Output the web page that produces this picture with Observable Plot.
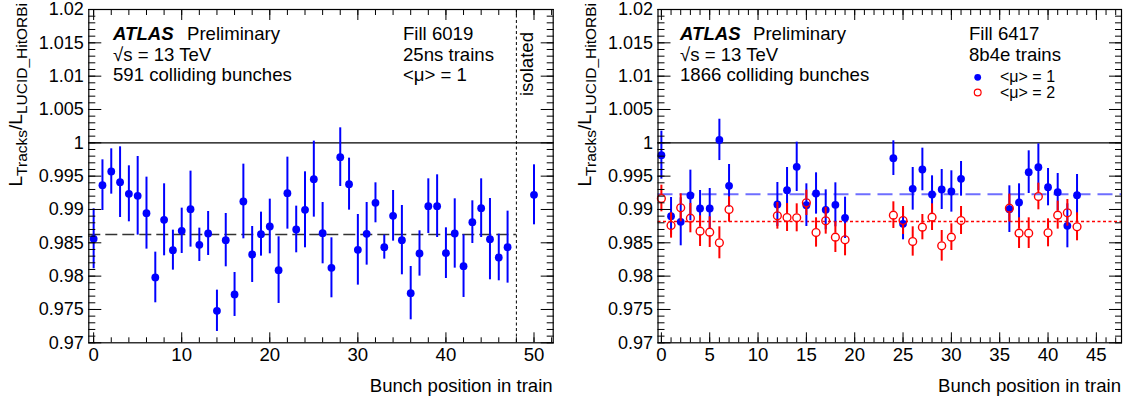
<!DOCTYPE html>
<html><head><meta charset="utf-8">
<script src="https://cdn.jsdelivr.net/npm/d3@7"></script>
<script src="https://cdn.jsdelivr.net/npm/@observablehq/plot@0.6"></script>
<style>
body{margin:0;background:#fff;}
#wrap{position:relative;width:1130px;height:402px;display:flex;overflow:hidden;}
#wrap svg{flex:none;overflow:visible;}
</style></head><body><div id="wrap"></div>
<script>
// ---------- data ----------
const leftX = [0,1,2,3,4,5,6,7,8,9,10,11,12,13,14,15,16,17,18,19,20,21,22,23,24,25,26,27,28,29,30,31,32,33,34,35,36,37,38,39,40,41,42,43,44,45,46,47,50];
const leftY = [0.9856,0.99365,0.9957,0.9941,0.99235,0.99205,0.98945,0.9798,0.98845,0.9839,0.9868,0.99005,0.9847,0.9864,0.9748,0.9854,0.97725,0.9912,0.98325,0.9863,0.98745,0.9809,0.99245,0.987,0.98995,0.99455,0.98645,0.98125,0.99785,0.9938,0.98395,0.98635,0.991,0.98435,0.98905,0.9854,0.97745,0.9834,0.9905,0.9905,0.98345,0.9864,0.9815,0.9881,0.9902,0.98555,0.9828,0.98435,0.9922];
const leftErr = [0.0045,0.0038,0.0034,0.0053,0.0042,0.0059,0.0054,0.0038,0.0054,0.003,0.0034,0.0057,0.0025,0.0033,0.0031,0.004,0.0033,0.0056,0.0042,0.0033,0.0041,0.005,0.0054,0.0035,0.0057,0.0057,0.0046,0.0045,0.0044,0.0039,0.0053,0.0047,0.003,0.0018,0.0038,0.0052,0.004,0.0034,0.0041,0.0047,0.0038,0.0052,0.0047,0.0032,0.0044,0.0061,0.0035,0.0054,0.0045];
const leftMean = 0.98625;
const isolatedEdge = 48;

const rightX = [0,1,2,3,4,5,6,7,12,13,14,15,16,17,18,19,24,25,26,27,28,29,30,31,36,37,38,39,40,41,42,43];
const mu1Y = [0.99815,0.989,0.98815,0.9921,0.99015,0.99015,1.00044,0.99355,0.99075,0.9929,0.9964,0.99065,0.9924,0.98995,0.9907,0.98875,0.9977,0.98785,0.9931,0.996,0.99225,0.993,0.9927,0.9946,0.99005,0.99105,0.9956,0.99635,0.99335,0.9926,0.98755,0.99215];
const mu1Err = [0.0036,0.0028,0.0036,0.0038,0.0027,0.003,0.0031,0.0032,0.0033,0.0034,0.0037,0.0032,0.0031,0.003,0.0033,0.0031,0.0026,0.0024,0.0032,0.0032,0.0028,0.003,0.0031,0.0026,0.0035,0.0028,0.0032,0.0035,0.0028,0.0028,0.0033,0.0031];
const mu2Y = [0.99165,0.9876,0.99025,0.9887,0.98675,0.9866,0.985,0.99,0.98905,0.9888,0.98875,0.991,0.98655,0.9883,0.98585,0.98545,0.98915,0.98835,0.9852,0.98735,0.98885,0.98455,0.98585,0.98835,0.9902,0.98645,0.98645,0.99195,0.9865,0.98915,0.9895,0.9874];
const mu2Err = [0.002,0.0019,0.0021,0.0022,0.0023,0.0023,0.0024,0.0019,0.002,0.0021,0.0021,0.0019,0.0022,0.002,0.0023,0.0024,0.002,0.0021,0.0022,0.0019,0.002,0.0023,0.002,0.0021,0.0021,0.0023,0.0023,0.002,0.0021,0.0021,0.002,0.0021];
const mu1Mean = 0.9923;
const mu2Mean = 0.9882;

const yMajor = [0.97,0.975,0.98,0.985,0.99,0.995,1,1.005,1.01,1.015,1.02];
const yMinor = d3.range(970,1021).map(d => d/1000);
const leftXMajor = [0,10,20,30,40,50];
const leftXMinor = d3.range(0,53,2);
const rightXMajor = [0,5,10,15,20,25,30,35,40,45];
const rightXMinor = d3.range(0,48);

const yLabel = ["L","Tracks","/L","LUCID_HitORBi"];
const xLabel = "Bunch position in train";
// ---------- layout/style ----------
const FONT = '"Liberation Sans", Arial, Helvetica, sans-serif';
const FS = 18.6, TICK_FS = 18;
const H = 402, MT = 9, MB = 59.7, Y_DOMAIN = [0.97, 1.02];
const BLUE = "#0000ff", RED = "#ff0000";
const fmt = d => String(+d.toFixed(3));

function frameMarks(xMajor, xMinor) {
  return [
    Plot.axisY(yMajor, {anchor: "left", tickSize: -13, tickFormat: () => "", label: null}),
    Plot.axisY(yMinor, {anchor: "left", tickSize: -7, tickFormat: () => "", label: null}),
    Plot.axisY(yMajor, {anchor: "right", tickSize: -13, tickFormat: () => "", label: null}),
    Plot.axisY(yMinor, {anchor: "right", tickSize: -7, tickFormat: () => "", label: null}),
    Plot.axisX(xMajor, {anchor: "bottom", tickSize: -10, tickFormat: () => "", label: null}),
    Plot.axisX(xMinor, {anchor: "bottom", tickSize: -5, tickFormat: () => "", label: null}),
    Plot.axisX(xMajor, {anchor: "top", tickSize: -10, tickFormat: () => "", label: null}),
    Plot.axisX(xMinor, {anchor: "top", tickSize: -5, tickFormat: () => "", label: null}),
    Plot.axisY(yMajor, {anchor: "left", tickSize: 0, tickPadding: 5, tickFormat: fmt, fontSize: TICK_FS, label: null}),
    Plot.axisX(xMajor, {anchor: "bottom", tickSize: 0, tickPadding: 5, tickFormat: d => String(d), fontSize: FS, label: null}),
    Plot.frame({stroke: "#000", strokeWidth: 1.2})
  ];
}

function makePlot({width, ml, mr, xDomain, xMajor, xMinor, marks}) {
  return Plot.plot({
    width, height: H, marginLeft: ml, marginRight: mr, marginTop: MT, marginBottom: MB,
    style: {fontFamily: FONT, fontSize: FS + "px", color: "#000", background: "#fff"},
    x: {domain: xDomain},
    y: {domain: Y_DOMAIN},
    marks: [...marks, ...frameMarks(xMajor, xMinor)]
  });
}

function addText(svg, x, y, str, opts = {}) {
  const t = svg.append("text").attr("x", x).attr("y", y)
    .attr("font-family", FONT).attr("font-size", opts.size || FS).attr("fill", "#000")
    .attr("text-anchor", opts.anchor || "start").text(str);
  if (opts.weight) t.attr("font-weight", opts.weight);
  if (opts.style) t.attr("font-style", opts.style);
  if (opts.rotate) t.attr("x", null).attr("y", null).attr("transform", `translate(${x},${y}) rotate(-90)`);
  return t;
}
function addYLabel(svg, x) {
  const t = svg.append("text").attr("transform", `translate(${x},3) rotate(-90)`)
    .attr("text-anchor", "end").attr("font-family", FONT).attr("font-size", 19).attr("fill", "#000");
  t.append("tspan").text(yLabel[0]);
  t.append("tspan").attr("font-size", 15.5).attr("dy", 5).text(yLabel[1]);
  t.append("tspan").attr("dy", -5).text(yLabel[2]);
  t.append("tspan").attr("font-size", 15.5).attr("dy", 5).text(yLabel[3]);
}

// ---------- left panel ----------
const leftData = leftX.map((x, i) => ({x, y: leftY[i], e: leftErr[i]}));
const LW = 565, LML = 88.3, LMR = LW - 552.7;
const leftDomain = [-0.55, 52.18];
const leftSvg = makePlot({
  width: LW, ml: LML, mr: LMR, xDomain: leftDomain, xMajor: leftXMajor, xMinor: leftXMinor,
  marks: [
    Plot.ruleY([1], {stroke: "#000", strokeWidth: 1.2}),
    Plot.ruleY([leftMean], {x1: () => leftDomain[0], x2: () => isolatedEdge, stroke: "#333", strokeWidth: 1.4, strokeDasharray: "12,5"}),
    Plot.ruleX([isolatedEdge], {stroke: "#000", strokeWidth: 1, strokeDasharray: "3,2.5"}),
    Plot.ruleX(leftData, {x: "x", y1: d => d.y - d.e, y2: d => d.y + d.e, stroke: BLUE, strokeWidth: 2}),
    Plot.dot(leftData, {x: "x", y: "y", r: 3.9, fill: BLUE, stroke: "none"})
  ]
});

// ---------- right panel ----------
const RW = 565, RML = 657.5 - 565, RMR = 1130 - 1121;
const rightDomain = [-0.35, 47.6];
const plotH = H - MT - MB;
const R_DOT = 3.9;
const rData = R_DOT * (Y_DOMAIN[1] - Y_DOMAIN[0]) / plotH;
const mu1Data = rightX.map((x, i) => ({x, y: mu1Y[i], e: mu1Err[i]}));
const mu2Data = rightX.map((x, i) => ({x, y: mu2Y[i], e: mu2Err[i]}));
const rightSvg = makePlot({
  width: RW, ml: RML, mr: RMR, xDomain: rightDomain, xMajor: rightXMajor, xMinor: rightXMinor,
  marks: [
    Plot.ruleY([1], {stroke: "#000", strokeWidth: 1.2}),
    Plot.ruleY([mu1Mean], {stroke: "#4a4aff", strokeOpacity: 0.8, strokeWidth: 2, strokeDasharray: "15,7"}),
    Plot.ruleY([mu2Mean], {stroke: RED, strokeWidth: 1.5, strokeDasharray: "3,2.5"}),
    Plot.ruleX(mu1Data, {x: "x", y1: d => d.y - d.e, y2: d => d.y + d.e, stroke: BLUE, strokeWidth: 2}),
    Plot.dot(mu1Data, {x: "x", y: "y", r: R_DOT, fill: BLUE, stroke: "none"}),
    Plot.ruleX(mu2Data, {x: "x", y1: d => d.y + rData, y2: d => d.y + d.e, stroke: RED, strokeWidth: 2}),
    Plot.ruleX(mu2Data, {x: "x", y1: d => d.y - d.e, y2: d => d.y - rData, stroke: RED, strokeWidth: 2}),
    Plot.dot(mu2Data, {x: "x", y: "y", r: R_DOT, fill: "none", stroke: RED, strokeWidth: 1.4})
  ]
});

const wrap = document.getElementById("wrap");
wrap.appendChild(leftSvg);
wrap.appendChild(rightSvg);

// ---------- annotations ----------
const ls = d3.select(leftSvg);
addYLabel(ls, 22);
addText(ls, 113, 39.5, "ATLAS", {weight: "bold", style: "italic"});
addText(ls, 187, 39.5, "Preliminary");
addText(ls, 113, 60.5, "√s = 13 TeV");
addText(ls, 113, 81, "591 colliding bunches");
addText(ls, 403, 39.5, "Fill 6019");
addText(ls, 403, 60.5, "25ns trains");
addText(ls, 403, 81, "<μ> = 1");
addText(ls, 533, 32, "isolated", {anchor: "end", rotate: true});
addText(ls, 552.7, 392, xLabel, {anchor: "end"});

const rs = d3.select(rightSvg);
addYLabel(rs, 22 + 569.2 - 565);
addText(rs, 680 - 565, 39.5, "ATLAS", {weight: "bold", style: "italic"});
addText(rs, 753 - 565, 39.5, "Preliminary");
addText(rs, 680 - 565, 60.5, "√s = 13 TeV");
addText(rs, 680 - 565, 81, "1866 colliding bunches");
addText(rs, 969 - 565, 39.5, "Fill 6417");
addText(rs, 969 - 565, 60.5, "8b4e trains");
rs.append("circle").attr("cx", 977.7 - 565).attr("cy", 77.3).attr("r", 3.4).attr("fill", BLUE);
rs.append("circle").attr("cx", 977.7 - 565).attr("cy", 92.5).attr("r", 3.4).attr("fill", "none").attr("stroke", RED).attr("stroke-width", 1.2);
addText(rs, 1000 - 565, 81.8, "<μ> = 1", {size: 16});
addText(rs, 1000 - 565, 98, "<μ> = 2", {size: 16});
addText(rs, 1121 - 565, 392, xLabel, {anchor: "end"});
</script></body></html>
